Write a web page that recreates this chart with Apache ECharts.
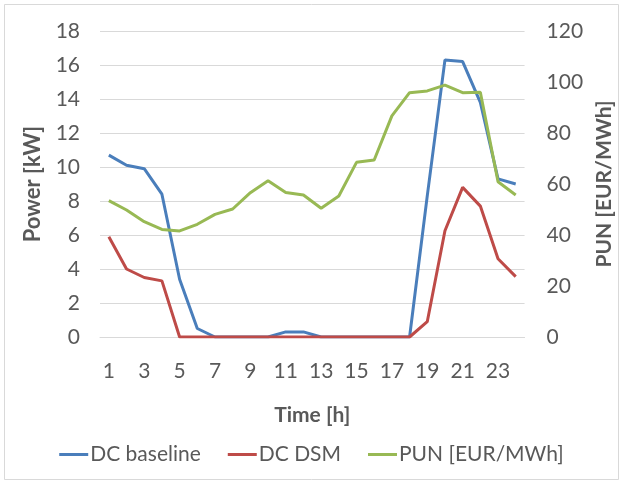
<!DOCTYPE html>
<html>
<head>
<meta charset="utf-8">
<script src="https://cdn.jsdelivr.net/npm/echarts@6/dist/echarts.min.js"></script>
<style>
html,body{margin:0;padding:0;background:#fff;}
#chart{width:623px;height:484px;}
</style>
</head>
<body>
<div id="chart"></div>
<script>
const hours = ['1','2','3','4','5','6','7','8','9','10','11','12','13','14','15','16','17','18','19','20','21','22','23','24'];
const dcBaseline = [10.7,10.1,9.9,8.4,3.4,0.5,0,0,0,0,0.3,0.3,0,0,0,0,0,0,8.3,16.3,16.2,13.8,9.3,9.0];
const dcDsm = [5.9,4.0,3.5,3.3,0,0,0,0,0,0,0,0,0,0,0,0,0,0,0.9,6.25,8.8,7.7,4.6,3.55];
const pun = [53.5,49.8,45.2,42.2,41.6,44.2,48.1,50.2,56.6,61.3,56.7,55.7,50.5,55.3,68.5,69.4,86.7,95.8,96.5,98.8,95.8,96,60.9,55.7];
const leftTicks = {min:0,max:18,interval:2};
const rightTicks = {min:0,max:120,interval:20};

const FONT = 'Lato';
const GREY = '#595959';
const chart = echarts.init(document.getElementById('chart'), null, {renderer:'canvas'});
chart.setOption({
  animation:false,
  backgroundColor:'#fff',
  graphic:[{type:'rect',shape:{x:4.5,y:4.5,width:614,height:475},style:{fill:'none',stroke:'#d9d9d9',lineWidth:1}}],
  grid:{left:100,right:98,top:31,bottom:147},
  legend:{
    bottom:14,left:'center',
    icon:'rect',itemWidth:29,itemHeight:3,itemGap:27,
    textStyle:{fontFamily:FONT,fontSize:21,color:GREY,padding:[0,0,0,-3]},
    data:['DC baseline','DC DSM','PUN [EUR/MWh]']
  },
  xAxis:{
    type:'category',data:hours,boundaryGap:true,
    name:'Time [h]',nameLocation:'middle',nameGap:68,
    nameTextStyle:{fontFamily:FONT,fontSize:21,fontWeight:'bold',color:GREY},
    axisLine:{lineStyle:{color:'#d9d9d9',width:1}},
    axisTick:{show:false},
    axisLabel:{interval:1,fontFamily:FONT,fontSize:21,color:GREY,margin:24}
  },
  yAxis:[{
    type:'value',min:leftTicks.min,max:leftTicks.max,interval:leftTicks.interval,
    name:'Power [kW]',nameLocation:'middle',nameGap:56,nameRotate:90,
    nameTextStyle:{fontFamily:FONT,fontSize:22,fontWeight:'bold',color:GREY},
    axisLine:{show:false},axisTick:{show:false},
    axisLabel:{fontFamily:FONT,fontSize:21,color:GREY,margin:20},
    splitLine:{lineStyle:{color:'#d9d9d9',width:1}}
  },{
    type:'value',min:rightTicks.min,max:rightTicks.max,interval:rightTicks.interval,
    name:'PUN [EUR/MWh]',nameLocation:'middle',nameGap:68,nameRotate:90,
    nameTextStyle:{fontFamily:FONT,fontSize:21,fontWeight:'bold',color:GREY},
    axisLine:{show:false},axisTick:{show:false},
    axisLabel:{fontFamily:FONT,fontSize:21,color:GREY,margin:22},
    splitLine:{show:false}
  }],
  series:[
    {name:'DC baseline',type:'line',data:dcBaseline,yAxisIndex:0,showSymbol:false,symbol:'none',
     lineStyle:{color:'#4A7EBB',width:3},itemStyle:{color:'#4A7EBB'}},
    {name:'DC DSM',type:'line',data:dcDsm,yAxisIndex:0,showSymbol:false,symbol:'none',
     lineStyle:{color:'#BE4B48',width:3},itemStyle:{color:'#BE4B48'}},
    {name:'PUN [EUR/MWh]',type:'line',data:pun,yAxisIndex:1,showSymbol:false,symbol:'none',
     lineStyle:{color:'#98B954',width:3},itemStyle:{color:'#98B954'}}
  ]
});
</script>
</body>
</html>
